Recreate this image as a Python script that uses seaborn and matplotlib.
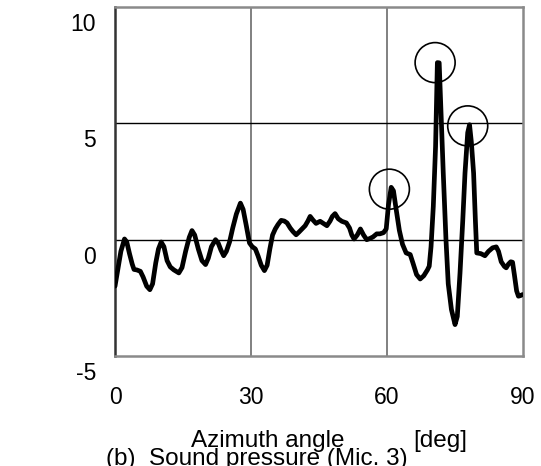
import numpy as np
import pandas as pd
import matplotlib
matplotlib.use("Agg")
import matplotlib.pyplot as plt
from matplotlib.transforms import ScaledTranslation
import seaborn as sns

# Sound pressure versus azimuth angle (Mic. 3)
angle = [0.0, 0.6, 1.3, 2.1, 2.6, 3.2, 3.8, 4.2, 4.8, 5.6, 6.2, 7.0, 7.7, 8.3,
         9.0, 9.6, 10.2, 10.8, 11.5, 12.2, 13.0, 14.1, 14.8, 15.6, 16.4, 17.0,
         17.6, 18.4, 19.2, 20.0, 20.6, 21.3, 22.2, 22.8, 23.4, 24.0, 24.6,
         25.3, 26.0, 26.8, 27.7, 28.3, 29.0, 29.7, 30.3, 31.0, 31.6, 32.3,
         33.0, 33.6, 34.2, 34.8, 35.4, 36.0, 36.7, 37.4, 38.0, 38.7, 39.3,
         40.0, 40.6, 41.3, 42.0, 42.6, 43.1, 43.7, 44.4, 45.3, 46.0, 46.8,
         47.5, 48.0, 48.6, 49.3, 50.1, 51.1, 51.8, 52.3, 52.8, 53.5, 54.2,
         54.9, 55.6, 56.3, 57.0, 57.8, 58.5, 59.3, 59.9, 60.4, 61.0, 61.5,
         62.1, 62.8, 63.5, 64.3, 65.2, 65.8, 66.6, 67.4, 68.2, 69.0, 69.4,
         69.8, 70.3, 70.8, 71.2, 71.6, 72.0, 72.5, 73.1, 73.6, 74.3, 75.1,
         75.6, 76.2, 76.8, 77.3, 77.9, 78.3, 78.7, 79.2, 79.6, 79.9, 80.8,
         81.7, 82.5, 83.4, 84.2, 84.7, 85.3, 86.0, 86.4, 86.9, 87.4, 87.8,
         88.2, 88.7, 89.1, 89.6, 90.0]
pressure = [-2.0, -1.3, -0.5, 0.03, -0.1, -0.6, -1.05, -1.28, -1.3, -1.36,
            -1.6, -2.0, -2.15, -1.9, -1.0, -0.4, -0.1, -0.3, -0.9, -1.17,
            -1.3, -1.43, -1.2, -0.5, 0.1, 0.39, 0.2, -0.4, -0.9, -1.07, -0.8,
            -0.3, 0.0, -0.15, -0.45, -0.69, -0.5, -0.1, 0.5, 1.1, 1.57, 1.3,
            0.6, -0.14, -0.3, -0.4, -0.7, -1.1, -1.33, -1.1, -0.4, 0.2, 0.46,
            0.65, 0.83, 0.8, 0.72, 0.5, 0.35, 0.21, 0.32, 0.46, 0.6, 0.8, 1.0,
            0.85, 0.7, 0.79, 0.7, 0.6, 0.8, 1.0, 1.12, 0.9, 0.79, 0.72, 0.5,
            0.2, 0.03, 0.2, 0.46, 0.2, 0.0, 0.05, 0.12, 0.25, 0.25, 0.3, 0.46,
            1.5, 2.25, 2.1, 1.3, 0.4, -0.2, -0.57, -0.64, -1.0, -1.5, -1.69,
            -1.55, -1.3, -1.14, -0.3, 1.43, 4.0, 7.61, 7.6, 5.5, 2.86, 0.0,
            -1.9, -3.0, -3.65, -3.3, -1.43, 0.8, 2.86, 4.6, 4.94, 4.2, 2.86,
            0.8, -0.57, -0.6, -0.69, -0.5, -0.35, -0.31, -0.5, -0.95, -1.15,
            -1.21, -1.05, -0.95, -0.97, -1.5, -2.2, -2.43, -2.4, -2.36]

# Marked peaks
circle_angle = [60.6, 70.7, 77.9]
circle_value = [2.17, 7.61, 4.89]

x_ticks = [0, 30, 60, 90]
y_ticks = [-5, 0, 5, 10]

sns.set_style("white")
plt.rcParams["font.family"] = ["Liberation Sans", "DejaVu Sans"]
plt.rcParams["text.color"] = "black"
plt.rcParams["xtick.labelcolor"] = "black"
plt.rcParams["ytick.labelcolor"] = "black"

fig = plt.figure(figsize=(5.41, 4.66), dpi=100)
ax = fig.add_axes([115 / 541, 1 - 356 / 466, (522.5 - 115) / 541, (356 - 7) / 466])

df = pd.DataFrame({"angle": angle, "pressure": pressure})
sns.lineplot(data=df, x="angle", y="pressure", ax=ax, color="black",
             linewidth=3.4, sort=False, estimator=None, zorder=3)

ax.scatter(circle_angle, circle_value, s=830, facecolors="none",
           edgecolors="black", linewidths=1.2, zorder=4)

ax.set_xlim(0, 90)
ax.set_ylim(-5, 10)
ax.set_xticks(x_ticks)
ax.set_yticks(y_ticks)
ax.set_xticklabels([str(v) for v in x_ticks])
ax.set_yticklabels([str(v) for v in y_ticks])

# grid: grey verticals, black horizontals
for xv in [30, 60]:
    ax.axvline(xv, color="#808080", linewidth=1.4, zorder=1)
for yv in [0, 5]:
    ax.axhline(yv, color="black", linewidth=1.0, zorder=1)

for side in ["top", "right", "bottom"]:
    ax.spines[side].set_color("#8a8a8a")
    ax.spines[side].set_linewidth(1.8)
ax.spines["left"].set_color("#333333")
ax.spines["left"].set_linewidth(1.8)

ax.tick_params(axis="y", direction="in", length=5, width=1.6, color="#222222",
               labelsize=16.5, pad=13.5, labelcolor="black")
ax.tick_params(axis="x", length=0, labelsize=16.5, pad=21.5, labelcolor="black")

# y tick labels sit a little below their gridlines
shift = ScaledTranslation(0, -15 / 100, fig.dpi_scale_trans)
for lab in ax.get_yticklabels():
    lab.set_transform(lab.get_transform() + shift)

ax.set_xlabel("")
ax.set_ylabel("")

fig.text(191 / 541, 1 - 447 / 466, "Azimuth angle", fontsize=17.5,
         ha="left", va="baseline", color="black")
fig.text(413 / 541, 1 - 447 / 466, "[deg]", fontsize=17.5,
         ha="left", va="baseline", color="black")
fig.text(106 / 541, 1 - 465.5 / 466, "(b)  Sound pressure (Mic. 3)", fontsize=17.5,
         ha="left", va="baseline", color="black")

fig.savefig("out.png", dpi=100)
